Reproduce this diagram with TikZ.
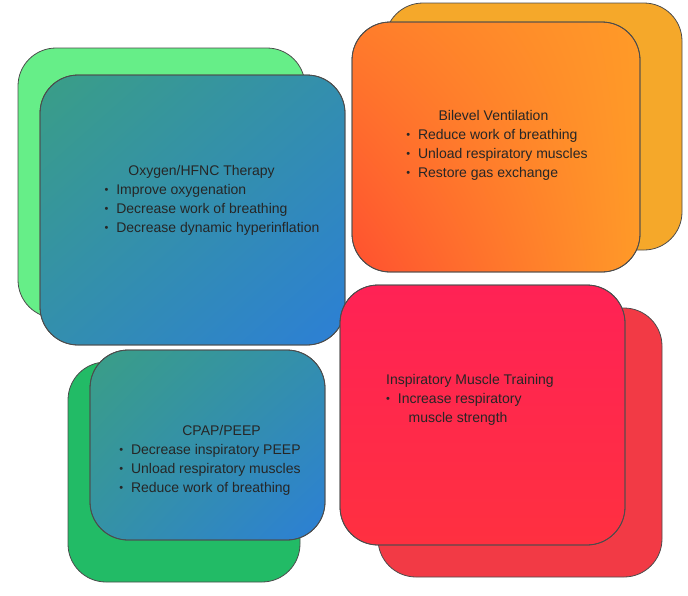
\documentclass[tikz,border=0pt]{standalone}
\usepackage{fontspec}
\usetikzlibrary{shadings}
\setmainfont{Liberation Sans}
\definecolor{tealA}{HTML}{3A9E86}
\definecolor{blueB}{HTML}{2C7FD6}
\definecolor{greenO}{HTML}{66EE88}
\definecolor{greenC}{HTML}{22BB66}
\definecolor{orR}{HTML}{FF5030}
\definecolor{orY}{HTML}{FF9A28}
\definecolor{orBack}{HTML}{F5A82A}
\definecolor{redA}{HTML}{FF2255}
\definecolor{redB}{HTML}{FF3040}
\definecolor{redBack}{HTML}{F23A45}
\newcommand{\bul}{\raisebox{0.1ex}{\fontsize{11}{11}\selectfont\textbullet}\ \ }
\begin{document}
\begin{tikzpicture}[x=1pt,y=-1pt,
  box/.style={draw=black!70,line width=0.8pt,rounded corners=38pt},
  txt/.style={align=left,font=\fontsize{14}{19}\selectfont,text=black!85}]
\useasboundingbox (0,0) rectangle (688,595);
% Oxygen
\fill[box,fill=greenO] (18,48) rectangle (305,318);
\shade[box,upper left=tealA,lower right=blueB,upper right=tealA!50!blueB,lower left=tealA!50!blueB] (40,75) rectangle (345,345);
\draw[box] (40,75) rectangle (345,345);
\node[txt] (o) at (212,200) {\hspace*{1.7em}Oxygen/HFNC Therapy\\
 \bul Improve oxygenation\\ \bul Decrease work of breathing\\ \bul Decrease dynamic hyperinflation};
% Bilevel
\fill[box,fill=orBack] (385,3) rectangle (682,250);
\shade[box,upper left=orY!60!orR,lower right=orY,upper right=orY,lower left=orR] (352,22) rectangle (640,272);
\draw[box] (352,22) rectangle (640,272);
\node[txt] (b) at (497,145) {\hspace*{2.3em}Bilevel Ventilation\\
 \bul Reduce work of breathing\\ \bul Unload respiratory muscles\\ \bul Restore gas exchange};
% IMT
\fill[box,fill=redBack] (378,308) rectangle (662,577);
\shade[box,upper left=redA,lower right=redB,upper right=redA,lower left=redB] (340,285) rectangle (625,545);
\draw[box] (340,285) rectangle (625,545);
\node[txt] (i) at (470,400) {Inspiratory Muscle Training\\
 \bul Increase respiratory\\ \hspace*{1.6em}muscle strength};
% CPAP
\fill[box,fill=greenC] (68,362) rectangle (300,582);
\shade[box,upper left=tealA,lower right=blueB,upper right=tealA!50!blueB,lower left=tealA!60!blueB] (90,350) rectangle (325,540);
\draw[box] (90,350) rectangle (325,540);
\node[txt] (c) at (210,460) {\hspace*{4.5em}CPAP/PEEP\\
 \bul Decrease inspiratory PEEP\\ \bul Unload respiratory muscles\\ \bul Reduce work of breathing};
\end{tikzpicture}
\end{document}
